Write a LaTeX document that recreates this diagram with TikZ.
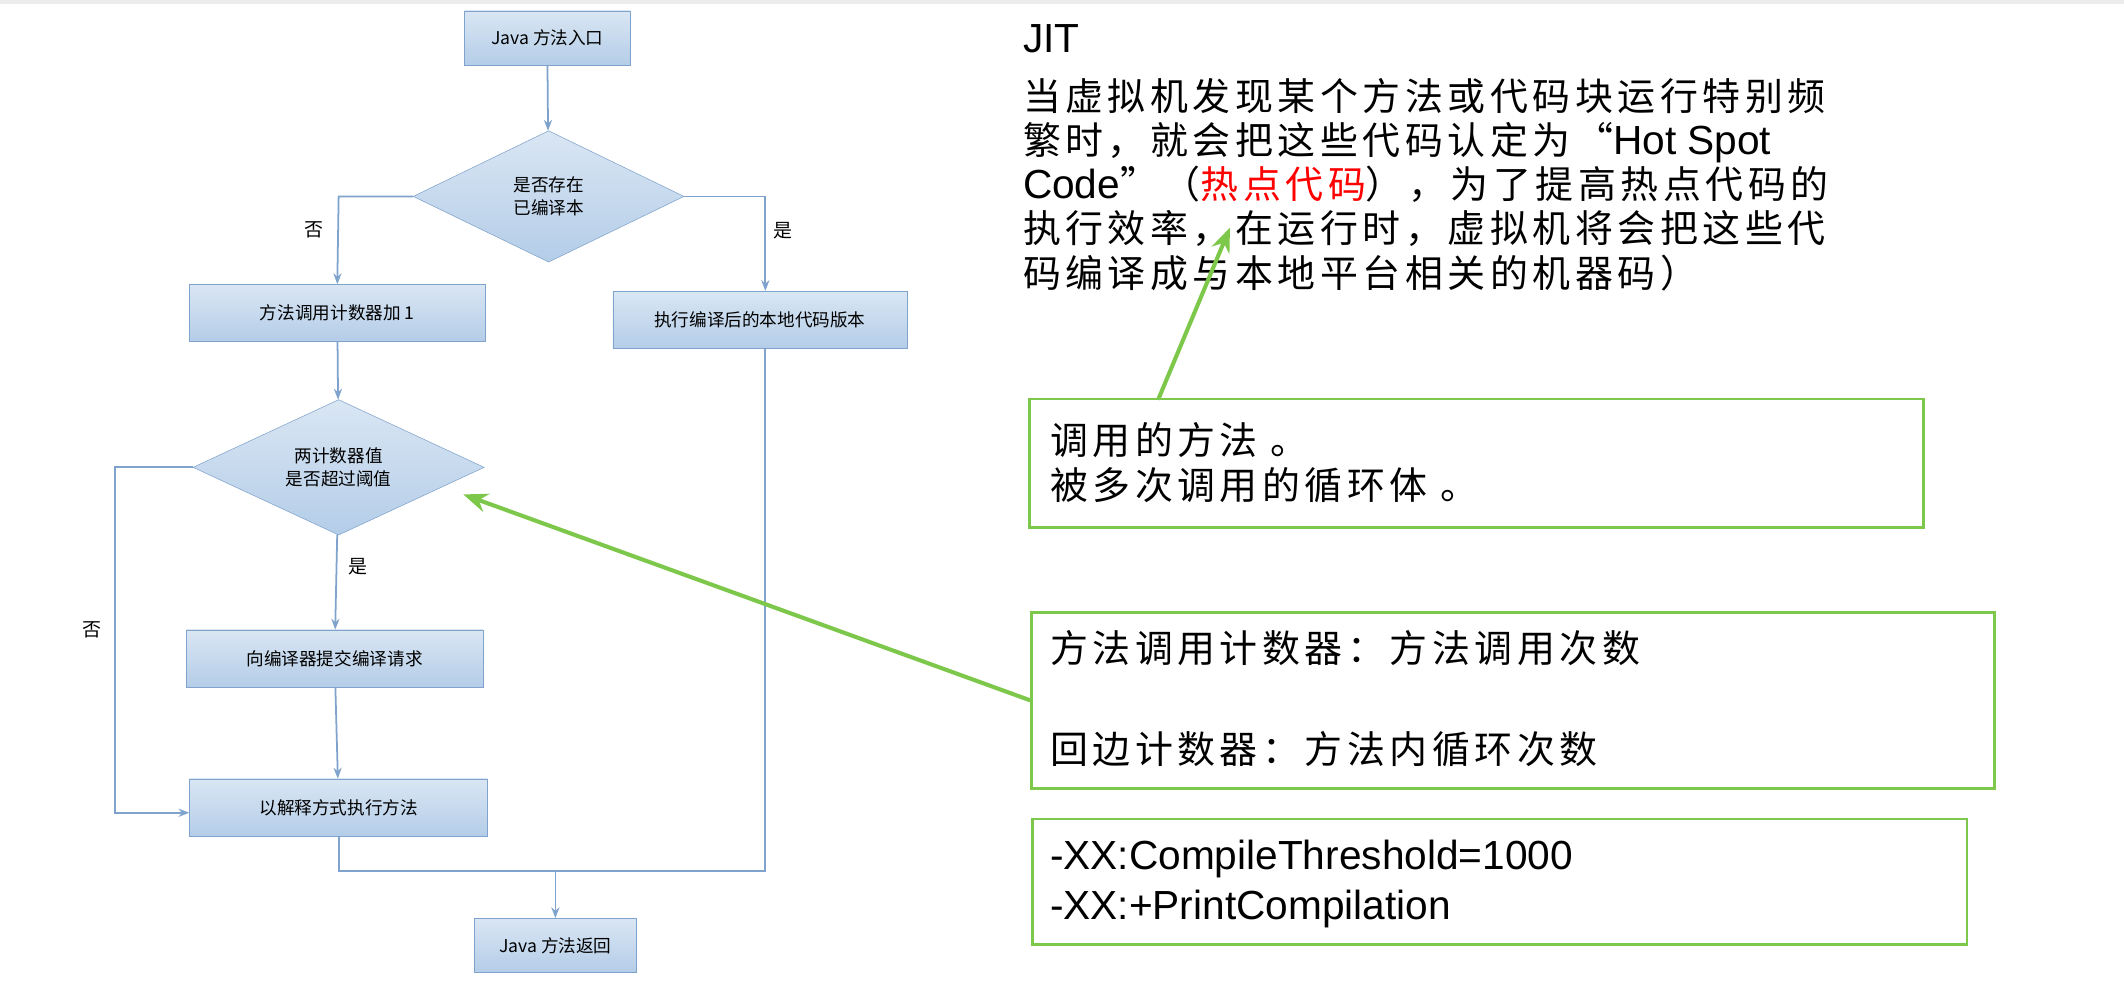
\documentclass[tikz,border=0pt]{standalone}
\usepackage{fontspec}
\setmainfont{Liberation Sans}
\newfontfamily\cjk{Noto Sans CJK SC}
\newfontfamily\cjkw[LetterSpace=12]{Noto Sans CJK SC}
\newcommand{\lat}[1]{{\rmfamily\fontsize{30}{32.5}\selectfont #1}}
\usetikzlibrary{shapes.geometric,arrows.meta}
\definecolor{bfill}{HTML}{B4CDE8}
\definecolor{bline}{HTML}{7FA3CC}
\definecolor{gline}{HTML}{7DC84A}
\tikzset{
 fbox/.style={draw=bline,top color=bfill!50,bottom color=bfill,minimum height=42pt,font=\cjk\fontsize{13}{16}\selectfont,align=center,inner sep=2pt},
 fdia/.style={diamond,draw=bline,top color=bfill!50,bottom color=bfill,aspect=2.1,inner sep=0pt,font=\cjk\fontsize{13}{17}\selectfont,align=center},
 fl/.style={draw=bline,line width=1.3pt},
 fa/.style={fl,-{Stealth[length=8pt,width=6pt]}},
 lbl/.style={font=\cjk\fontsize{14}{16}\selectfont},
 gbox/.style={draw=gline,line width=2pt,rectangle},
 big/.style={font=\cjkw\fontsize{28}{32.5}\selectfont,align=left,anchor=north west,inner sep=0pt},
 ga/.style={draw=gline,line width=3pt,-{Stealth[length=18pt,width=14pt]}}
}
\begin{document}
\begin{tikzpicture}[x=1pt,y=-1pt]
\useasboundingbox[fill=white] (0,0) rectangle (1568,735);
\fill[gray!15] (0,0) rectangle (1568,3);
% flowchart
\node[fbox,minimum width=122pt,minimum height=40pt] (entry) at (404,28) {Java 方法入口};
\node[fdia,minimum width=200pt,minimum height=97pt] (d1) at (405,145) {是否存在\\已编译本};
\node[fbox,minimum width=218pt] (cnt) at (249,231) {方法调用计数器加 1};
\node[fbox,minimum width=217pt] (exe) at (561,236) {执行编译后的本地代码版本};
\node[fdia,minimum width=215pt,minimum height=100pt] (d2) at (250,345) {两计数器值\\是否超过阈值};
\node[fbox,minimum width=219pt] (sub) at (247,486) {向编译器提交编译请求};
\node[fbox,minimum width=220pt] (int) at (250,596) {以解释方式执行方法};
\node[fbox,minimum width=120pt,minimum height=40pt] (ret) at (410,698) {Java 方法返回};
\coordinate (c1) at (250,145); \coordinate (c2) at (565,145);
\coordinate (c3) at (85,345); \coordinate (c4) at (85,600);
\coordinate (c5) at (250,643); \coordinate (c6) at (565,643); \coordinate (c7) at (410,643);
\draw[fa] (entry) -- (d1);
\draw[fa] (d1.west) -- (c1) -- (cnt.north);
\draw[fa] (d1.east) -- (c2) -- (exe.north -| c2);
\draw[fa] (cnt) -- (d2);
\draw[fa] (d2) -- (sub);
\draw[fa] (sub) -- (int);
\draw[fa] (d2.west) -- (c3) -- (c4) -- (int.west |- c4);
\draw[fl] (int.south) -- (c5) -- (c7);
\draw[fl] (exe.south -| c6) -- (c6) -- (c7);
\draw[fa] (c7) -- (ret);
\node[lbl] (l1) at (232,170) {否};
\node[lbl] (l2) at (578,170) {是};
\node[lbl] (l3) at (264,418) {是};
\node[lbl] (l4) at (68,465) {否};
% right text
\node[big] (jit) at (755,18) {\lat{JIT}};
\node[big] (jitt) at (755,58) {当虚拟机发现某个方法或代码块运行特别频\\繁时，就会把这些代码认定为“\lat{Hot Spot}\\\lat{Code}”（\textcolor{red}{热点代码}），为了提高热点代码的\\执行效率，在运行时，虚拟机将会把这些代\\码编译成与本地平台相关的机器码）};
\node[gbox,minimum width=660pt,minimum height=95pt] (ga) at (1090,342) {};
\node[big] (gat) at (775,312) {调用的方法 。\\被多次调用的循环体 。};
\node[gbox,minimum width=711pt,minimum height=130pt] (gb) at (1117,517) {};
\node[big] (gbt) at (775,465) {方法调用计数器：方法调用次数\\[42pt]回边计数器：方法内循环次数};
\node[gbox,minimum width=690pt,minimum height=93pt] (gc) at (1107,651) {};
\node[big] (gct) at (775,620) {\lat{-XX:CompileThreshold=1000}\\[4pt]\lat{-XX:+PrintCompilation}};
\coordinate (t1) at (908,168);
\draw[ga] (855,295) -- (t1);
\draw[ga] (gb.west) -- (342,365);
\end{tikzpicture}
\end{document}
